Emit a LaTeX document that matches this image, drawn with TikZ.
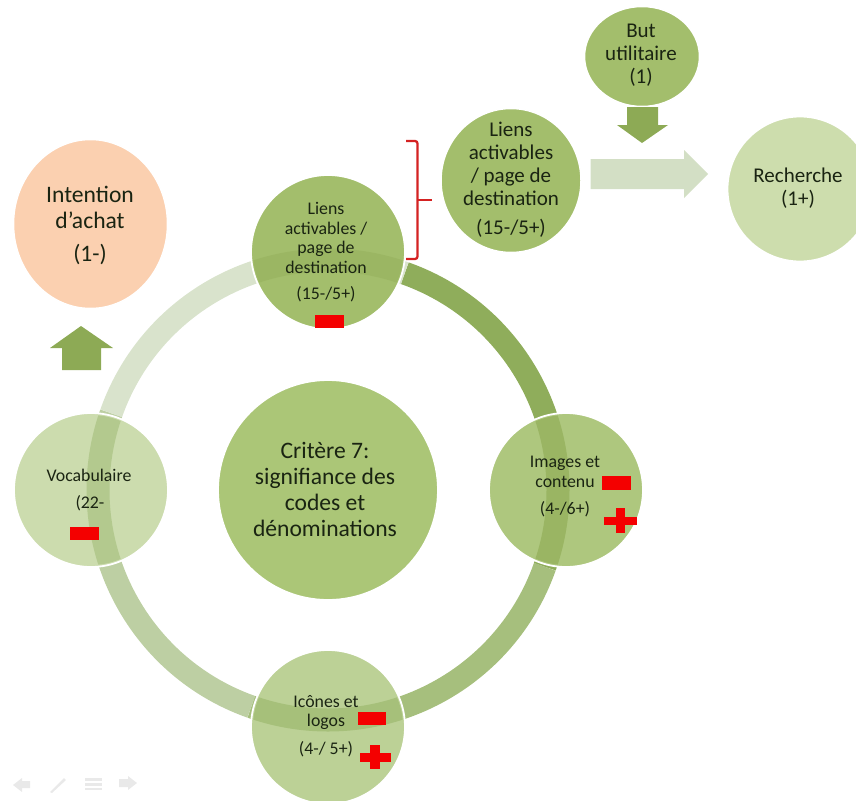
\documentclass[tikz,border=0pt]{standalone}
\usepackage{fontspec}
\setmainfont{Carlito}
\usetikzlibrary{shapes.geometric}
\definecolor{txt}{HTML}{1A2412}
\definecolor{cTop}{HTML}{A3BE6C}
\definecolor{cCenter}{HTML}{ABC677}
\definecolor{cImg}{HTML}{AEC77E}
\definecolor{cBot}{HTML}{BCD196}
\definecolor{cVoc}{HTML}{CCDCAE}
\definecolor{cRech}{HTML}{CDDDAD}
\definecolor{cPeach}{HTML}{FBD0B0}
\definecolor{aOne}{HTML}{8FAD5B}
\definecolor{aTwo}{HTML}{A6BF7D}
\definecolor{aThree}{HTML}{BDCFA3}
\definecolor{aFour}{HTML}{D9E3CC}
\definecolor{bOne}{HTML}{9AB563}
\definecolor{bTwo}{HTML}{A6C07A}
\definecolor{bThree}{HTML}{B3C98E}
\definecolor{bFour}{HTML}{9BB663}
\definecolor{arrowDark}{HTML}{8DAA55}
\definecolor{arrowLight}{HTML}{D3DFC5}
\definecolor{marker}{HTML}{F40000}
\definecolor{brace}{HTML}{D42222}
\definecolor{navgrey}{HTML}{E9E9E9}
\tikzset{
  x=1pt,y=-1pt,
  disc/.style={circle,draw=white,line width=1.8pt,minimum size=#1,inner sep=0pt},
  oval/.style 2 args={ellipse,draw=white,line width=1.5pt,minimum width=#1,minimum height=#2,inner sep=0pt},
  band/.style={line width=23pt,line cap=butt},
  lab/.style={text=txt,align=center,inner sep=0pt},
  small/.style={lab,font=\fontsize{17.8}{19.5}\selectfont},
  mid/.style={lab,font=\fontsize{21}{23}\selectfont},
  big/.style={lab,font=\fontsize{23.6}{26}\selectfont},
  minus/.style={fill=marker,draw=none},
  plusmark/.style={fill=marker,draw=none},
  nav/.style={fill=navgrey,draw=none}
}
\begin{document}
\begin{tikzpicture}
\useasboundingbox (0,0) rectangle (856,800);
\clip (0,0) rectangle (856,800);
\coordinate (ring) at (328,490);
% ring segments (outer parts)
\draw[band,draw=aOne] (ring) ++(70.5:230 and -230) arc[start angle=70.5,end angle=-19.5,x radius=230,y radius=-230];
\draw[band,draw=aTwo] (ring) ++(-19.5:230 and -230) arc[start angle=-19.5,end angle=-109.5,x radius=230,y radius=-230];
\draw[band,draw=aThree] (ring) ++(-109.5:230 and -230) arc[start angle=-109.5,end angle=-199.5,x radius=230,y radius=-230];
\draw[band,draw=aFour] (ring) ++(160.5:230 and -230) arc[start angle=160.5,end angle=70.5,x radius=230,y radius=-230];
% discs
\node[disc=220pt,fill=cCenter] (centre) at (328,490) {};
\node[disc=154pt,fill=cTop] (top) at (328,252) {};
\node[disc=154pt,fill=cImg] (images) at (566,490) {};
\node[disc=154pt,fill=cBot] (bottom) at (328,727) {};
\node[disc=154pt,fill=cVoc] (vocab) at (91,490) {};
\node[oval={140pt}{144pt},fill=cTop] (liens) at (511,180.5) {};
\node[oval={115pt}{100pt},fill=cTop] (but) at (642,56.5) {};
\node[disc=145pt,fill=cRech] (recherche) at (800,189) {};
\node[oval={154pt}{169pt},fill=cPeach] (intention) at (90.5,224) {};
% ring parts seen through the discs
\begin{scope}
\clip (566,490) circle[radius=75];
\draw[band,draw=bOne] (ring) ++(25:230 and -230) arc[start angle=25,end angle=-25,x radius=230,y radius=-230];
\end{scope}
\begin{scope}
\clip (328,727) circle[radius=75];
\draw[band,draw=bTwo] (ring) ++(-65:230 and -230) arc[start angle=-65,end angle=-115,x radius=230,y radius=-230];
\end{scope}
\begin{scope}
\clip (91,490) circle[radius=75];
\draw[band,draw=bThree] (ring) ++(-155:230 and -230) arc[start angle=-155,end angle=-205,x radius=230,y radius=-230];
\end{scope}
\begin{scope}
\clip (328,252) circle[radius=75];
\draw[band,draw=bFour] (ring) ++(115:230 and -230) arc[start angle=115,end angle=65,x radius=230,y radius=-230];
\end{scope}
% block arrows
\fill[arrowDark] (627,107) -- (658,107) -- (658,125) -- (668,125) -- (642,143) -- (617,125) -- (627,125) -- cycle;
\fill[arrowLight] (590.5,159) -- (684,159) -- (684,150) -- (708,174) -- (684,198) -- (684,189) -- (590.5,189) -- cycle;
\fill[arrowDark] (62,370) -- (62,348) -- (50,348) -- (81,326) -- (113,348) -- (101,348) -- (101,370) -- cycle;
% bracket
\draw[brace,line width=2.3pt,rounded corners=2.5pt] (406,141) -- (417.5,141) -- (417.5,259) -- (406,259);
\draw[brace,line width=2.3pt] (417.5,200) -- (431.5,200);
% markers
\fill[minus] (315,315) rectangle (344,328);
\fill[minus] (70,527) rectangle (99,540);
\fill[minus] (602,476) rectangle (631,490);
\fill[minus] (358,712) rectangle (386,725);
\fill[plusmark] (604,517) rectangle (637,525);
\fill[plusmark] (616,508) rectangle (625,533);
\fill[plusmark] (360,753) rectangle (391,762);
\fill[plusmark] (370,745) rectangle (380,769);
% labels
\node[big] (tcentre) at (325,489) {Critère 7:\\signifiance des\\codes et\\dénominations};
\node[small] (ttop1) at (326,238) {Liens\\activables /\\page de\\destination};
\node[small] (ttop2) at (326,294.5) {(15-/5+)};
\node[small] (timg1) at (565,472) {Images et\\contenu};
\node[small] (timg2) at (565,509.5) {(4-/6+)};
\node[small] (tbot1) at (326,712.5) {Icônes et\\logos};
\node[small] (tbot2) at (326,749.5) {(4-/ 5+)};
\node[small] (tvoc1) at (89,475) {Vocabulaire};
\node[small] (tvoc2) at (90,503.5) {(22-};
\node[mid] (tliens1) at (511,164) {Liens\\activables\\/ page de\\destination};
\node[mid] (tliens2) at (511,228.5) {(15-/5+)};
\node[mid] (tbut) at (641,55.5) {But\\utilitaire\\(1)};
\node[mid] (trech) at (798,188.5) {Recherche\\(1+)};
\node[big] (tint1) at (90,207) {Intention\\d’achat};
\node[big] (tint2) at (90,254.5) {(1-)};
% slideshow controls
\fill[nav] (13,785) -- (22,778) -- (22,781) -- (30,781) -- (30,788) -- (22,788) -- (22,792) -- cycle;
\fill[nav] (50,792) -- (64,778) -- (66,780) -- (52,793) -- cycle;
\fill[nav] (85,778) rectangle (102,781);
\fill[nav] (85,783) rectangle (102,786);
\fill[nav] (85,788) rectangle (102,790);
\fill[nav] (137,783) -- (128,776) -- (128,779) -- (119,779) -- (119,787) -- (128,787) -- (128,790) -- cycle;
\end{tikzpicture}
\end{document}
